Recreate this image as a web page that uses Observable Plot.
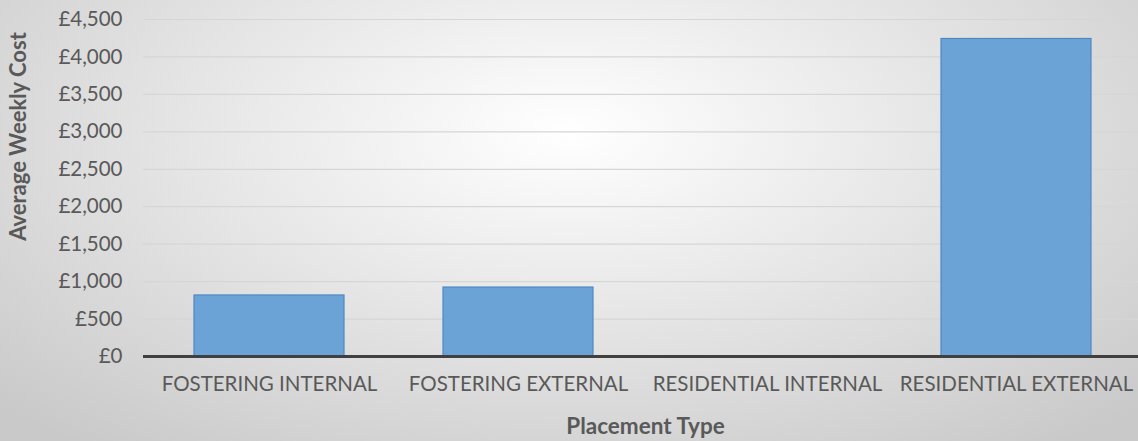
<!DOCTYPE html>
<html>
<head>
<meta charset="utf-8">
<script src="https://cdn.jsdelivr.net/npm/d3@7"></script>
<script src="https://cdn.jsdelivr.net/npm/@observablehq/plot@0.6"></script>
<style>
  html, body { margin: 0; padding: 0; }
  body {
    width: 1138px; height: 441px; overflow: hidden;
    background: radial-gradient(ellipse 70% 90% at 50% 30%, #ffffff 0%, #e4e4e4 50%, #c9c9c9 100%);
  }
  #chart svg { display: block; background: transparent; overflow: hidden; }
</style>
</head>
<body>
<div id="chart"></div>
<script>
const categories = ["FOSTERING INTERNAL", "FOSTERING EXTERNAL", "RESIDENTIAL INTERNAL", "RESIDENTIAL EXTERNAL"];
const costs = [815, 921, 0, 4240];
const yTicks = [0, 500, 1000, 1500, 2000, 2500, 3000, 3500, 4000, 4500];

const data = categories.map((c, i) => ({category: c, cost: costs[i]}));
const fmt = d => "£" + d3.format(",")(d);

const chart = Plot.plot({
  width: 1138,
  height: 441,
  marginLeft: 143,
  marginRight: -5,
  marginTop: 19,
  marginBottom: 85,
  style: {fontFamily: "Lato, 'Open Sans', sans-serif", background: "transparent", color: "#595959"},
  x: {domain: categories, paddingInner: 0.396, paddingOuter: 0.2, label: null},
  y: {domain: [0, 4500], label: null},
  marks: [
    Plot.gridY(yTicks, {stroke: "#d6d6d6", strokeOpacity: 1, strokeWidth: 1.2}),
    Plot.barY(data, {x: "category", y: "cost", fill: "#6ca3d6", stroke: "#4f87c2", strokeWidth: 1.2}),
    Plot.ruleY([0], {stroke: "#404040", strokeWidth: 3}),
    Plot.axisY(yTicks, {tickFormat: fmt, tickSize: 0, tickPadding: 21, fontSize: 20.5, fill: "#595959", label: null}),
    Plot.axisX({tickSize: 0, tickPadding: 20, fontSize: 20.5, fill: "#595959", label: null}),
    Plot.text(["Average Weekly Cost"], {frameAnchor: "top-left", dx: -125, dy: 117, rotate: -90, textAnchor: "middle", lineAnchor: "middle", fontSize: 22, fontWeight: "bold", fill: "#595959"}),
    Plot.text(["Placement Type"], {frameAnchor: "bottom", dx: 2, dy: 70, textAnchor: "middle", lineAnchor: "middle", fontSize: 22.5, fontWeight: "bold", fill: "#595959"})
  ]
});
document.getElementById("chart").appendChild(chart);
</script>
</body>
</html>
